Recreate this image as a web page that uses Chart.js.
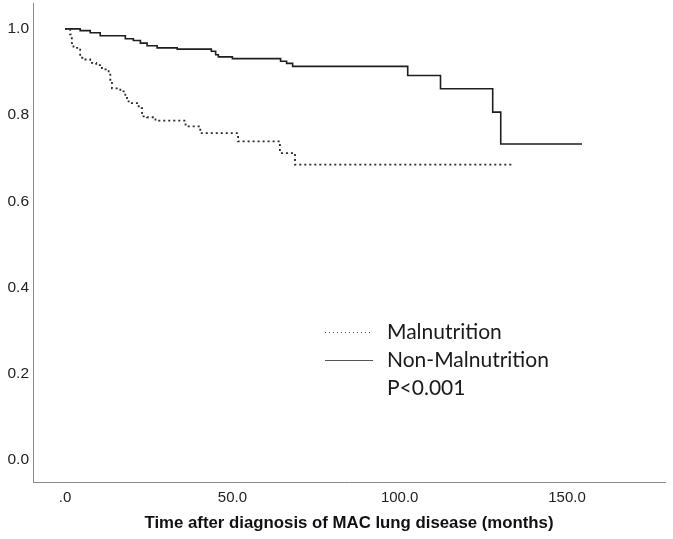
<!DOCTYPE html>
<html lang="en">
<head>
<meta charset="UTF-8" />
<title>Survival - MAC lung disease</title>
<script src="https://cdn.jsdelivr.net/npm/chart.js"></script>
<style>
  html, body { margin: 0; padding: 0; background: #fff; }
  #wrap { width: 673px; height: 539px; }
</style>
</head>
<body>
<div id="wrap"><canvas id="kmChart" width="673" height="539"></canvas></div>
<script>
  // Kaplan-Meier steps (months, cumulative survival)
  const malTime = [0, 1.0, 1.5, 2.0, 2.5, 4.5, 5.7, 7.5, 9.3, 11, 13, 13.5, 14, 16.5, 18, 18.5, 19, 22, 23, 24.5, 27, 36, 40.4, 51.7, 64.2, 68.7, 133.7];
  const malSurv = [1.0, 0.999, 0.987, 0.967, 0.956, 0.933, 0.929, 0.921, 0.916, 0.906, 0.894, 0.882, 0.862, 0.855, 0.847, 0.832, 0.828, 0.816, 0.797, 0.795, 0.787, 0.774, 0.758, 0.739, 0.712, 0.685, 0.685];

  const nonTime = [0, 4.5, 7.5, 10.5, 18, 20.4, 22.5, 24.5, 27.5, 33.5, 43.7, 45, 45.8, 50, 64.4, 66.2, 68, 102.4, 112.2, 127.8, 130.2, 154.5];
  const nonSurv = [1.0, 0.996, 0.991, 0.984, 0.977, 0.973, 0.967, 0.961, 0.956, 0.953, 0.948, 0.940, 0.935, 0.931, 0.925, 0.920, 0.913, 0.892, 0.861, 0.807, 0.733, 0.733];

  const xTicks = [0, 50, 100, 150];
  const xTickLabels = ['.0', '50.0', '100.0', '150.0'];
  const yTicks = [0, 0.2, 0.4, 0.6, 0.8, 1.0];

  const seriesNames = ['Malnutrition', 'Non-Malnutrition'];
  const pValueText = 'P<0.001';
  const xTitle = 'Time after diagnosis of MAC lung disease (months)';

  const toPoints = (ts, ss) => ts.map((t, i) => ({ x: t, y: ss[i] }));

  // legend box drawn in the middle-right of the plot, like the SPSS output
  const kmLegend = {
    id: 'kmLegend',
    afterDraw(chart) {
      const ctx = chart.ctx;
      const x0 = 325, x1 = 373, tx = 387;
      const rows = [332, 360, 388];
      ctx.save();
      ctx.strokeStyle = '#555';
      ctx.lineWidth = 1;
      ctx.setLineDash([1, 3]);
      ctx.beginPath(); ctx.moveTo(x0, rows[0] + 0.5); ctx.lineTo(x1, rows[0] + 0.5); ctx.stroke();
      ctx.setLineDash([]);
      ctx.beginPath(); ctx.moveTo(x0, rows[1] + 0.5); ctx.lineTo(x1, rows[1] + 0.5); ctx.stroke();
      ctx.font = '21px Lato';
      ctx.fillStyle = '#1a1a1a';
      ctx.textBaseline = 'middle';
      ctx.fillText(seriesNames[0], tx, rows[0]);
      ctx.fillText(seriesNames[1], tx, rows[1]);
      ctx.fillText(pValueText, tx, rows[2]);
      ctx.restore();
    }
  };

  new Chart(document.getElementById('kmChart'), {
    type: 'line',
    data: {
      datasets: [
        {
          label: seriesNames[0],
          data: toPoints(malTime, malSurv),
          stepped: 'before',
          borderColor: '#2a2a2a',
          borderWidth: 1.8,
          borderDash: [2, 3],
          pointRadius: 0,
          fill: false
        },
        {
          label: seriesNames[1],
          data: toPoints(nonTime, nonSurv),
          stepped: 'before',
          borderColor: '#1e1e1e',
          borderWidth: 1.6,
          pointRadius: 0,
          fill: false
        }
      ]
    },
    options: {
      responsive: false,
      animation: false,
      layout: { padding: { top: 3, right: 8, left: 0, bottom: 0 } },
      plugins: { legend: { display: false }, tooltip: { enabled: false } },
      scales: {
        x: {
          type: 'linear',
          min: -9.6,
          max: 179.3,
          grid: { display: false, drawTicks: false },
          border: { color: '#8a8a8a', width: 1 },
          afterBuildTicks: s => { s.ticks = xTicks.map(v => ({ value: v })); },
          afterFit: s => { s.height = 57; s.paddingLeft = 0; s.paddingRight = 0; },
          ticks: {
            padding: 7,
            color: '#222',
            maxRotation: 0,
            autoSkip: false,
            font: { family: 'Liberation Sans', size: 15 },
            callback: v => xTickLabels[xTicks.indexOf(v)]
          },
          title: {
            display: true,
            text: xTitle,
            color: '#111',
            font: { family: 'Liberation Sans', size: 16.8, weight: 'bold' },
            padding: { top: 0, bottom: 6 }
          }
        },
        y: {
          min: -0.051,
          max: 1.06,
          grid: { display: false, drawTicks: false },
          border: { color: '#8a8a8a', width: 1 },
          afterBuildTicks: s => { s.ticks = yTicks.map(v => ({ value: v })); },
          afterFit: s => { s.width = 33; s.paddingTop = 0; s.paddingBottom = 0; },
          ticks: {
            padding: 4,
            color: '#222',
            font: { family: 'Liberation Sans', size: 15.5 },
            callback: v => Number(v).toFixed(1)
          }
        }
      }
    },
    plugins: [kmLegend]
  });
</script>
</body>
</html>
